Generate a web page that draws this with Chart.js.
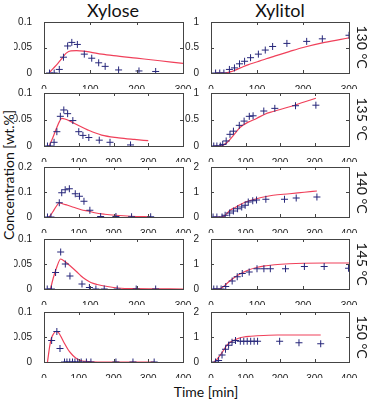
<!DOCTYPE html>
<html>
<head>
<meta charset="utf-8">
<script src="https://cdn.jsdelivr.net/npm/chart.js@4.4.0/dist/chart.umd.min.js"></script>
<style>
  body { margin: 0; background: #fff; }
  #fig { position: relative; width: 371px; height: 400px; overflow: hidden; background: #fff;
         font-family: Lato, "Open Sans", sans-serif; color: #111; }
  #fig canvas { position: absolute; }
  .lbl { position: absolute; white-space: nowrap; transform: translate(-50%, -50%); }
</style>
</head>
<body>
<div id="fig">
  <div class="lbl" style="left:113px; top:10px; font-size:18px;">Xylose</div>
  <div class="lbl" style="left:280px; top:10px; font-size:18px;">Xylitol</div>
  <div class="lbl" style="left:8px; top:175px; font-size:14px; transform:translate(-50%,-50%) rotate(-90deg);">Concentration [wt.%]</div>
  <div class="lbl" style="left:206px; top:391px; font-size:14px;">Time [min]</div>
</div>
<script>
// temperatures, one per row
const temps = ['130 °C', '135 °C', '140 °C', '145 °C', '150 °C'];

// x limits and ticks per row
const xMaxByRow = [300, 400, 400, 300, 400];
const xTicks300 = [0, 100, 200, 300];
const xTicks400 = [0, 100, 200, 300, 400];

// y ticks
const yTicksXylose = [0, 0.05, 0.1];
const yTicksXylose140 = [0, 0.1, 0.2];
const yTicksXylitol1 = [0, 0.5, 1];
const yTicksXylitol2 = [0, 1, 2];

// ---- 130 °C ----
const xyloseT130 = [12, 22, 33, 42, 51, 60, 72, 87, 103, 118, 132, 161, 205, 241];
const xyloseC130 = [0, 0, 0.007, 0.031, 0.053, 0.060, 0.056, 0.037, 0.029, 0.020, 0.013, 0.006, 0.004, 0.003];
const xyloseFitT130 = [11, 20, 30, 40, 48, 58, 70, 85, 100, 125, 150, 200, 250, 300];
const xyloseFitC130 = [0, 0.009, 0.019, 0.030, 0.039, 0.0435, 0.0438, 0.043, 0.041, 0.037, 0.034, 0.029, 0.024, 0.019];
const xylitolT130 = [10, 19, 28, 40, 51, 62, 73, 86, 103, 118, 134, 165, 208, 242, 300];
const xylitolC130 = [0, 0, 0, 0.07, 0.10, 0.18, 0.23, 0.30, 0.37, 0.45, 0.52, 0.58, 0.62, 0.67, 0.74];
const xylitolFitT130 = [10, 30, 45, 64, 80, 101, 120, 138, 170, 200, 247, 300];
const xylitolFitC130 = [0, 0, 0.03, 0.10, 0.16, 0.22, 0.28, 0.33, 0.42, 0.50, 0.60, 0.69];

// ---- 135 °C ----
const xyloseT135 = [10, 18, 29, 37, 47, 57, 68, 83, 100, 112, 129, 159, 190, 249];
const xyloseC135 = [0, 0, 0.007, 0.027, 0.056, 0.068, 0.061, 0.048, 0.027, 0.020, 0.016, 0.011, 0.007, 0.002];
const xyloseFitT135 = [15, 25, 35, 45, 51, 60, 75, 98, 127, 166, 215, 260, 300];
const xyloseFitC135 = [0, 0.015, 0.032, 0.047, 0.052, 0.051, 0.047, 0.039, 0.030, 0.0205, 0.0155, 0.0124, 0.010];
const xylitolT135 = [8, 17, 27, 34, 44, 55, 65, 82, 96, 111, 122, 153, 185, 245, 304];
const xylitolC135 = [0, 0, 0, 0.03, 0.095, 0.22, 0.28, 0.39, 0.47, 0.56, 0.57, 0.66, 0.71, 0.76, 0.77];
const xylitolFitT135 = [10, 25, 46, 65, 84, 108, 132, 156, 180, 228, 270, 304];
const xylitolFitC135 = [0, 0, 0.06, 0.20, 0.35, 0.45, 0.52, 0.60, 0.65, 0.74, 0.83, 0.90];

// ---- 140 °C ----
const xyloseT140 = [10, 20, 44, 51, 61, 73, 90, 102, 115, 132, 163, 207, 252, 307];
const xyloseC140 = [0, 0, 0.057, 0.097, 0.109, 0.113, 0.093, 0.083, 0.063, 0.027, 0.002, 0.002, 0.001, 0.001];
const xyloseFitT140 = [15, 25, 35, 44, 55, 68, 85, 107, 130, 146, 175, 205, 250, 307];
const xyloseFitC140 = [0, 0.020, 0.042, 0.057, 0.052, 0.047, 0.039, 0.029, 0.023, 0.017, 0.011, 0.007, 0.003, 0.001];
const xylitolT140 = [6, 17, 32, 41, 54, 65, 77, 89, 99, 108, 121, 132, 159, 213, 247, 307];
const xylitolC140 = [0, 0, 0, 0.07, 0.16, 0.24, 0.33, 0.40, 0.47, 0.60, 0.65, 0.68, 0.71, 0.71, 0.76, 0.80];
const xylitolFitT140 = [10, 30, 40, 55, 70, 84, 100, 132, 160, 180, 228, 270, 307];
const xylitolFitC140 = [0, 0, 0.05, 0.27, 0.38, 0.49, 0.60, 0.73, 0.82, 0.87, 0.93, 0.99, 1.04];

// ---- 145 °C ----
const xyloseT145 = [7, 16, 25, 36, 46, 56, 82, 98, 112, 130, 158, 199, 241];
const xyloseC145 = [0, 0, 0.033, 0.074, 0.050, 0.026, 0.010, 0.003, 0, 0, 0, 0, 0];
const xyloseFitT145 = [14, 20, 28, 36, 45, 58, 70, 80, 90, 101, 115, 137, 160, 195, 300];
const xyloseFitC145 = [0, 0.022, 0.045, 0.060, 0.055, 0.045, 0.035, 0.026, 0.019, 0.013, 0.009, 0.005, 0.002, 0.0006, 0];
const xylitolT145 = [6, 13, 22, 32, 46, 57, 68, 83, 100, 115, 129, 162, 203, 246, 299];
const xylitolC145 = [0, 0, 0, 0.10, 0.32, 0.49, 0.62, 0.68, 0.81, 0.81, 0.81, 0.81, 0.90, 0.90, 0.83];
const xylitolFitT145 = [5, 18, 26, 35, 50, 65, 80, 101, 120, 138, 170, 201, 250, 300];
const xylitolFitC145 = [0, 0, 0.08, 0.23, 0.45, 0.62, 0.75, 0.87, 0.93, 0.97, 1.01, 1.03, 1.04, 1.04];

// ---- 150 °C ----
const xyloseT150 = [22, 37, 46, 59, 66, 74, 82, 89, 97, 107, 122, 135, 207, 256, 317];
const xyloseC150 = [0.043, 0.061, 0.027, 0, 0, 0, 0, 0, 0, 0, 0, 0, 0, 0, 0];
const xyloseFitT150 = [10, 13, 16, 21, 27, 34, 40, 47, 59, 70, 78, 88, 98, 110, 127, 160, 317];
const xyloseFitC150 = [0, 0.015, 0.030, 0.047, 0.056, 0.061, 0.060, 0.053, 0.037, 0.024, 0.017, 0.010, 0.005, 0.002, 0.001, 0, 0];
const xylitolT150 = [13, 22, 32, 42, 51, 61, 71, 85, 95, 105, 115, 125, 135, 199, 255, 318];
const xylitolC150 = [0, 0.06, 0.28, 0.51, 0.67, 0.79, 0.86, 0.83, 0.83, 0.83, 0.83, 0.83, 0.83, 0.83, 0.77, 0.73];
const xylitolFitT150 = [8, 17, 27, 37, 46, 56, 66, 80, 95, 115, 134, 192, 318];
const xylitolFitC150 = [0, 0.10, 0.28, 0.48, 0.67, 0.79, 0.87, 0.95, 1.00, 1.03, 1.05, 1.08, 1.08];

// layout of the plot boxes (px)
const ROWS = [[21, 73], [92, 146], [166, 217], [238, 289], [311, 362]];
const COLS = [[44, 183], [211, 349]];
const PAD_L = 30, PAD_R = 14, PAD_T = 9, PAD_B = 16;

const FIT_COLOR = '#f0405a';
const MARK_COLOR = '#26267a';
const AXIS_COLOR = '#444';
const TICK_FONT = { family: '"Liberation Sans", Arial, sans-serif', size: 10 };

function toXY(t, c) {
    return t.map((v, i) => ({ x: v, y: c[i] }));
}

// MATLAB style box with inward tick marks on all four sides
const boxPlugin = {
    id: 'matlabBox',
    afterDatasetsDraw(chart) {
        const { ctx, chartArea: a, scales } = chart;
        ctx.save();
        ctx.strokeStyle = AXIS_COLOR;
        ctx.lineWidth = 1;
        ctx.strokeRect(a.left + 0.5, a.top + 0.5, a.right - a.left, a.bottom - a.top);
        ctx.beginPath();
        scales.x.ticks.forEach(tk => {
            const px = Math.round(scales.x.getPixelForValue(tk.value)) + 0.5;
            ctx.moveTo(px, a.bottom); ctx.lineTo(px, a.bottom - 3);
            ctx.moveTo(px, a.top); ctx.lineTo(px, a.top + 3);
        });
        scales.y.ticks.forEach(tk => {
            const py = Math.round(scales.y.getPixelForValue(tk.value)) + 0.5;
            ctx.moveTo(a.left, py); ctx.lineTo(a.left + 3, py);
            ctx.moveTo(a.right, py); ctx.lineTo(a.right - 3, py);
        });
        ctx.stroke();
        ctx.restore();
    }
};

const panels = [
    // row, col, xMax, yMax, yTicks, t, c, fitT, fitC
    [0, 0, yTicksXylose, xyloseT130, xyloseC130, xyloseFitT130, xyloseFitC130],
    [0, 1, yTicksXylitol1, xylitolT130, xylitolC130, xylitolFitT130, xylitolFitC130],
    [1, 0, yTicksXylose, xyloseT135, xyloseC135, xyloseFitT135, xyloseFitC135],
    [1, 1, yTicksXylitol1, xylitolT135, xylitolC135, xylitolFitT135, xylitolFitC135],
    [2, 0, yTicksXylose140, xyloseT140, xyloseC140, xyloseFitT140, xyloseFitC140],
    [2, 1, yTicksXylitol2, xylitolT140, xylitolC140, xylitolFitT140, xylitolFitC140],
    [3, 0, yTicksXylose, xyloseT145, xyloseC145, xyloseFitT145, xyloseFitC145],
    [3, 1, yTicksXylitol2, xylitolT145, xylitolC145, xylitolFitT145, xylitolFitC145],
    [4, 0, yTicksXylose, xyloseT150, xyloseC150, xyloseFitT150, xyloseFitC150],
    [4, 1, yTicksXylitol2, xylitolT150, xylitolC150, xylitolFitT150, xylitolFitC150]
];

const fig = document.getElementById('fig');

panels.forEach(([row, col, yTicks, t, c, fitT, fitC]) => {
    const [top, bottom] = ROWS[row];
    const [left, right] = COLS[col];
    const xMax = xMaxByRow[row];
    const xTicks = xMax === 300 ? xTicks300 : xTicks400;

    const canvas = document.createElement('canvas');
    const w = right - left + PAD_L + PAD_R;
    const h = bottom - top + PAD_T + PAD_B;
    canvas.width = w; canvas.height = h;
    canvas.style.left = (left - PAD_L) + 'px';
    canvas.style.top = (top - PAD_T) + 'px';
    canvas.style.width = w + 'px';
    canvas.style.height = h + 'px';
    fig.appendChild(canvas);

    new Chart(canvas, {
        type: 'scatter',
        data: {
            datasets: [
                {
                    data: toXY(t, c),
                    pointStyle: 'cross',
                    pointRadius: 3.5,
                    borderWidth: 1,
                    borderColor: MARK_COLOR,
                    backgroundColor: MARK_COLOR
                },
                {
                    type: 'line',
                    data: toXY(fitT, fitC),
                    borderColor: FIT_COLOR,
                    borderWidth: 1.2,
                    pointRadius: 0,
                    fill: false,
                    cubicInterpolationMode: 'monotone'
                }
            ]
        },
        options: {
            animation: false,
            responsive: false,
            devicePixelRatio: 1,
            layout: { padding: { top: PAD_T, right: PAD_R, left: 0, bottom: 0 } },
            plugins: { legend: { display: false }, tooltip: { enabled: false } },
            scales: {
                x: {
                    type: 'linear', min: 0, max: xMax,
                    afterBuildTicks: s => { s.ticks = xTicks.map(v => ({ value: v })); },
                    afterFit: s => { s.height = PAD_B; },
                    grid: { display: false },
                    border: { display: false },
                    ticks: { font: TICK_FONT, color: '#222', padding: 3, maxRotation: 0, autoSkip: false,
                             callback: v => String(v) }
                },
                y: {
                    type: 'linear', min: 0, max: yTicks[yTicks.length - 1],
                    afterBuildTicks: s => { s.ticks = yTicks.map(v => ({ value: v })); },
                    afterFit: s => { s.width = PAD_L; },
                    grid: { display: false },
                    border: { display: false },
                    ticks: { font: TICK_FONT, color: '#222', padding: 4, autoSkip: false,
                             callback: v => String(v) }
                }
            }
        },
        plugins: [boxPlugin]
    });
});

// temperature labels on the right
temps.forEach((txt, i) => {
    const d = document.createElement('div');
    d.className = 'lbl';
    d.textContent = txt;
    d.style.left = '362px';
    d.style.top = ((ROWS[i][0] + ROWS[i][1]) / 2) + 'px';
    d.style.fontSize = '14px';
    d.style.transform = 'translate(-50%,-50%) rotate(90deg)';
    fig.appendChild(d);
});
</script>
</body>
</html>
